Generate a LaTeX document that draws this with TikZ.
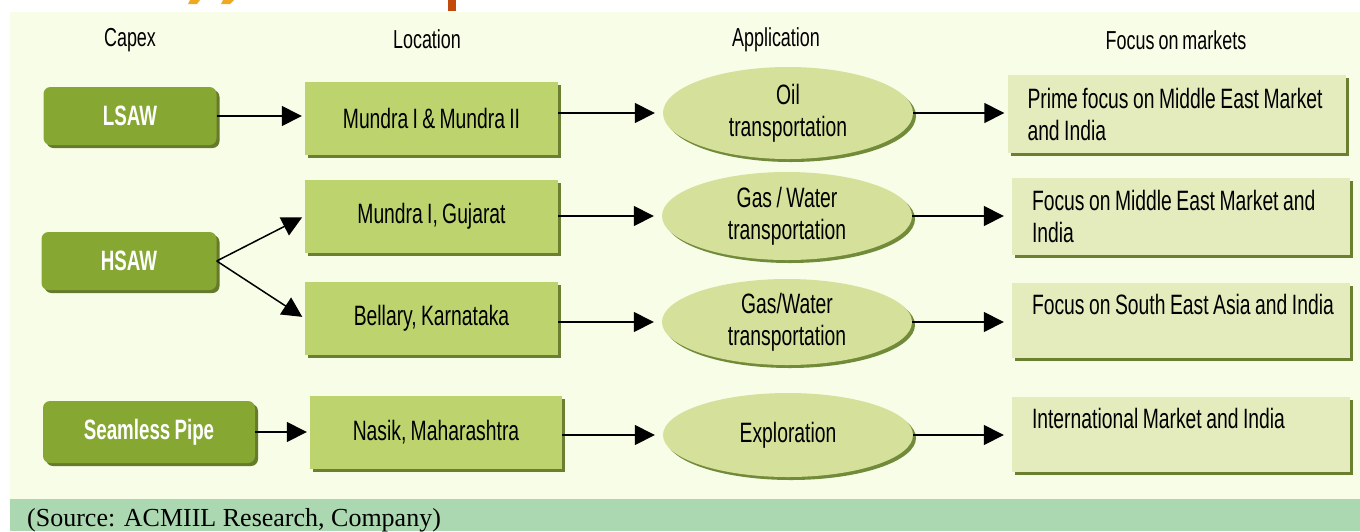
\documentclass[tikz,border=0pt]{standalone}
\usepackage{fontspec}
\setmainfont{Liberation Sans}[FakeStretch=0.69, WordSpace=0.8]
\newfontfamily\capfont{Liberation Sans}[FakeStretch=0.67, WordSpace=0.8]
\newfontfamily\srcfont{Liberation Serif}
\usetikzlibrary{shapes.geometric,arrows.meta,calc}

% narrow word spacing inside aligned node texts
\newcommand\tsp{\spaceskip=0.16em\relax}

\definecolor{panel}{HTML}{F8FDE8}
\definecolor{band}{HTML}{ABD8B1}
\definecolor{capfill}{HTML}{86A832}
\definecolor{capshade}{HTML}{667A2C}
\definecolor{locfill}{HTML}{BDD46E}
\definecolor{locshade}{HTML}{6B7F30}
\definecolor{appfill}{HTML}{D5E19A}
\definecolor{appshade}{HTML}{728B3A}
\definecolor{mktfill}{HTML}{E4EBBD}
\definecolor{mktshade}{HTML}{6B7F30}
\definecolor{amber}{HTML}{F0A81E}
\definecolor{rust}{HTML}{C24A0A}

\tikzset{
  shade3/.style={preaction={fill=#1, transform canvas={xshift=3pt,yshift=-3pt}}},
  header/.style={font=\fontsize{26}{30}\selectfont, inner sep=0},
  capbox/.style={rounded corners=7pt, fill=capfill, shade3=capshade, text=white,
    font=\capfont\fontsize{28}{32}\selectfont\bfseries, inner sep=0,
    minimum height=58pt},
  locbox/.style={fill=locfill, shade3=locshade, inner sep=0,
    font=\fontsize{28}{32}\selectfont, minimum width=253pt, minimum height=73pt},
  appnode/.style={ellipse, fill=appfill, shade3=appshade, inner sep=0,
    font=\fontsize{28}{32}\selectfont, align=center,
    minimum width=250pt, minimum height=90pt},
  mktbox/.style={fill=mktfill, shade3=mktshade, inner xsep=20pt, inner ysep=0,
    font=\fontsize{28}{32}\selectfont, align=left, text width=298pt,
    minimum height=76pt},
  link/.style={line width=1.5pt, -{Triangle[length=20pt,width=20pt]}, shorten >=3pt},
}

\begin{document}
\begin{tikzpicture}[x=1pt,y=-1pt]
\useasboundingbox (0,0) rectangle (1360,531);
\fill[white] (0,0) rectangle (1360,531);
\fill[panel] (10,12) rectangle (1360,499);
\fill[band] (10,499) rectangle (1360,531);

% fragments of the page heading above the panel
\fill[amber] (190,0) -- (200,0) -- (197,4) -- (188,4) -- cycle;
\fill[amber] (223,0) -- (234,0) -- (230,4) -- (221,4) -- cycle;
\fill[rust] (448,0) rectangle (456,11);

% column headings
\node[header] (hcap) at (130,40) {Capex};
\node[header] (hloc) at (427,39) {Location};
\node[header] (happ) at (776,40) {Application};
\node[header] (hmkt) at (1176,40) {Focus on markets};

% capex
\node[capbox, minimum width=173pt] (cap1) at (130,116) {LSAW};
\node[capbox, minimum width=175pt] (cap2) at (129,261) {HSAW};
\node[capbox, minimum width=212pt, minimum height=62pt] (cap3) at (149,432) {Seamless Pipe};

% locations
\node[locbox] (loc1) at (431.5,118.5) {Mundra I \& Mundra II};
\node[locbox] (loc2) at (431.5,216) {Mundra I, Gujarat};
\node[locbox] (loc3) at (431.5,318.5) {Bellary, Karnataka};
\node[locbox, minimum width=252pt] (loc4) at (436,432) {Nasik, Maharashtra};

% applications
\node[appnode, minimum height=92pt] (app1) at (788,113) {\tsp Oil\\transportation};
\node[appnode, minimum height=88pt] (app2) at (787,216) {\tsp Gas / Water\\transportation};
\node[appnode, minimum height=86pt] (app3) at (787,322) {\tsp Gas/Water\\transportation};
\node[appnode, minimum height=84pt] (app4) at (788,435) {\tsp Exploration};

% markets (each line kept whole)
\node[mktbox, minimum height=78pt] (mk1) at (1176.5,114) {\tsp\mbox{Prime focus on Middle East Market}\\and India};
\node[mktbox, minimum height=77pt] (mk2) at (1181,216.5) {\tsp\mbox{Focus on Middle East Market and}\\India};
\node[mktbox, minimum height=75pt] (mk3) at (1181,320.5) {\tsp\mbox{Focus on South East Asia and India}\\\mbox{}};
\node[mktbox, minimum height=75pt] (mk4) at (1181,434.5) {\tsp\mbox{International Market and India}\\\mbox{}};

% connectors
\draw[link] (cap1.east) -- (cap1.east -| loc1.west);
\draw[link] (cap2.east) -- (loc2.west);
\draw[link] (cap2.east) -- (loc3.west);
\draw[link] (cap3.east) -- (cap3.east -| loc4.west);

\draw[link, shorten >=8pt] (loc1.east |- app1.west) -- (app1.west);
\draw[link, shorten >=8pt] (loc2.east |- app2.west) -- (app2.west);
\draw[link, shorten >=8pt] (loc3.east |- app3.west) -- (app3.west);
\draw[link, shorten >=8pt] (loc4.east |- app4.west) -- (app4.west);

\draw[link] (app1.east) -- (app1.east -| mk1.west);
\draw[link, shorten >=8pt] (app2.east) -- (app2.east -| mk2.west);
\draw[link, shorten >=8pt] (app3.east) -- (app3.east -| mk3.west);
\draw[link, shorten >=8pt] (app4.east) -- (app4.east -| mk4.west);

% source line
\node[font=\srcfont\fontsize{26}{30}\selectfont, anchor=base west, inner sep=0] (src) at (27,526) {(Source: ACMIIL Research, Company)};
\end{tikzpicture}
\end{document}
